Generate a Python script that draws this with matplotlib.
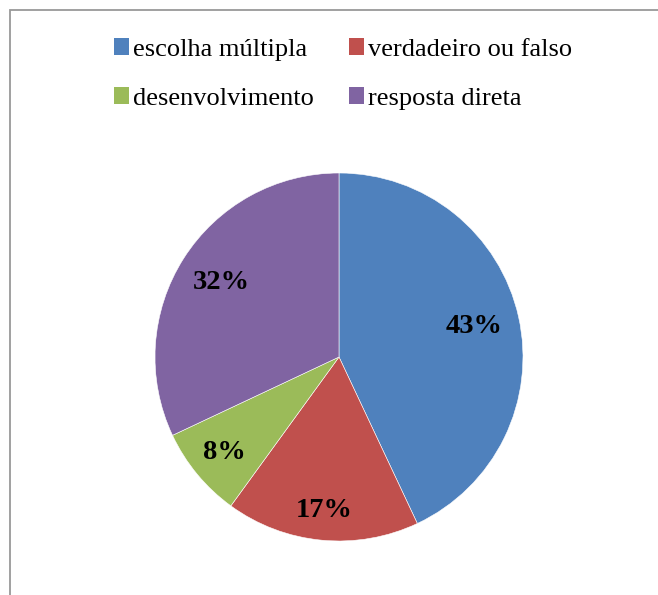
import matplotlib
matplotlib.use("Agg")
import numpy as np
import matplotlib.pyplot as plt
from matplotlib.patches import Rectangle, Patch

categories = ["escolha múltipla", "verdadeiro ou falso", "desenvolvimento", "resposta direta"]
values = [43, 17, 8, 32]
colors = ["#4F81BD", "#C0504D", "#9BBB59", "#8064A2"]
label_dist = [0.75, 0.84, 0.81, 0.76]

W, H = 658, 595
fig = plt.figure(figsize=(W / 100, H / 100), dpi=100)
plt.rcParams['font.family'] = ['Liberation Serif', 'DejaVu Serif']

# border (extends beyond right/bottom edges)
fig.patches.append(Rectangle((10 / W, -0.1), 1.1, (H - 10) / H + 0.1,
                             transform=fig.transFigure, fill=False,
                             edgecolor="#999999", linewidth=1.3))

cx, cy, r = 339, 357, 184
ax = fig.add_axes([(cx - r) / W, (H - cy - r) / H, 2 * r / W, 2 * r / H])
wedges, texts, autotexts = ax.pie(
    values, colors=colors, startangle=90, counterclock=False,
    autopct=lambda p: f"{p:.0f}%", pctdistance=0.8, radius=1,
    wedgeprops=dict(edgecolor="white", linewidth=0.4),
    textprops=dict(fontsize=20.5, fontweight="bold", color="black"))
for w, t, d in zip(wedges, autotexts, label_dist):
    ang = np.deg2rad((w.theta1 + w.theta2) / 2)
    t.set_position((d * np.cos(ang), d * np.sin(ang)))
ax.set_xlim(-1, 1)
ax.set_ylim(-1, 1)
ax.set_aspect("equal")
ax.axis("off")

handles = [Patch(facecolor=c, edgecolor="none") for c in colors]
order = [0, 2, 1, 3]
fig.legend([handles[i] for i in order], [categories[i] for i in order],
           ncol=2, loc="center", bbox_to_anchor=(343 / W, 1 - 74 / H),
           frameon=False, fontsize=19, handlelength=0.6, handleheight=0.6,
           handletextpad=0.15, columnspacing=1.3, labelspacing=1.0)

fig.savefig("out.png", dpi=100)
